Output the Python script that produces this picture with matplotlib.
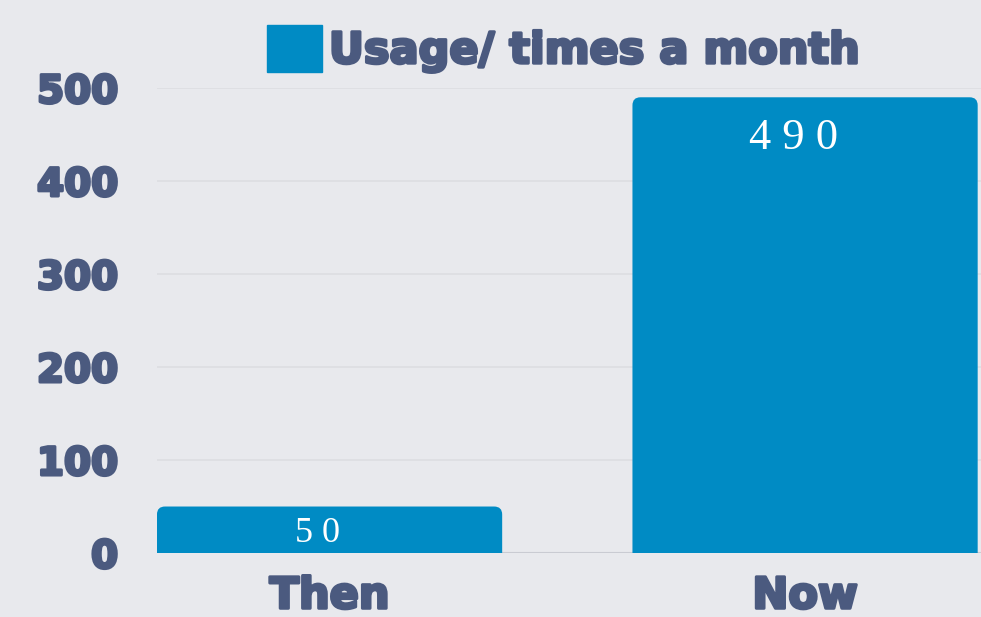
import matplotlib
matplotlib.use('Agg')
import matplotlib.pyplot as plt
import matplotlib.patheffects as pe
from matplotlib.patches import FancyBboxPatch, Patch

categories = ['Then', 'Now']
usage = [50, 490]
value_labels = ['5 0', '4 9 0']
yticks = [0, 100, 200, 300, 400, 500]
series_name = 'Usage/ times a month'

BG = '#e8e9ed'
BAR = '#008bc4'
TXT = '#4b5a7f'

fig = plt.figure(figsize=(9.81, 6.17), dpi=100, facecolor=BG)
ax = fig.add_axes([0.16, 0.1037, 0.84, 0.7537])
ax.set_facecolor(BG)

x = list(range(len(categories)))
bars = ax.bar(x, usage, width=0.726, color=BAR, zorder=3)
ax.set_xlim(-0.363, 1.37)
ax.set_ylim(0, 500)

# rounded top corners: swap each bar for a rounded patch
fig.canvas.draw()
inv = ax.transData.inverted()
p0 = inv.transform((0, 0))
p1 = inv.transform((1, 1))
xpp = p1[0] - p0[0]
ypp = p1[1] - p0[1]
r = 8 * xpp
for b in bars:
    b.set_visible(False)
    bx, bw, bh = b.get_x(), b.get_width(), b.get_height()
    patch = FancyBboxPatch((bx, -20), bw, bh + 20,
                           boxstyle='round,pad=0,rounding_size=%f' % r,
                           mutation_aspect=ypp / xpp,
                           fc=BAR, ec='none', zorder=3)
    ax.add_patch(patch)

sizes = [26, 32]
offsets = [29, 44]
for i, (v, lab) in enumerate(zip(usage, value_labels)):
    ax.text(x[i] - 0.025, v - offsets[i], lab, ha='center', va='center',
            color='white', fontsize=sizes[i], family='Liberation Serif',
            zorder=4)

heavy = [pe.withStroke(linewidth=2.2, foreground=TXT)]

ax.set_yticks(yticks)
ax.set_xticks(x)
ax.set_xticklabels(categories)
ax.grid(axis='y', color='#dcdde2', linewidth=1.2, zorder=0)
ax.axhline(0, color='#c9cbd2', linewidth=1.5, zorder=2)
for s in ax.spines.values():
    s.set_visible(False)
ax.tick_params(length=0)
ax.tick_params(axis='y', pad=28, labelsize=28, labelcolor=TXT)
ax.tick_params(axis='x', pad=16, labelsize=31, labelcolor=TXT)
for t in ax.get_yticklabels() + ax.get_xticklabels():
    t.set_fontweight('bold')
    t.set_path_effects(heavy)

leg = fig.legend(handles=[Patch(color=BAR, label=series_name)],
                 loc='center', bbox_to_anchor=(0.574, 0.921),
                 frameon=False, fontsize=31, handlelength=1.3,
                 handleheight=1.3, handletextpad=0.15)
for t in leg.get_texts():
    t.set_color(TXT)
    t.set_fontweight('bold')
    t.set_path_effects(heavy)

fig.savefig('out.png', dpi=100, facecolor=BG)
